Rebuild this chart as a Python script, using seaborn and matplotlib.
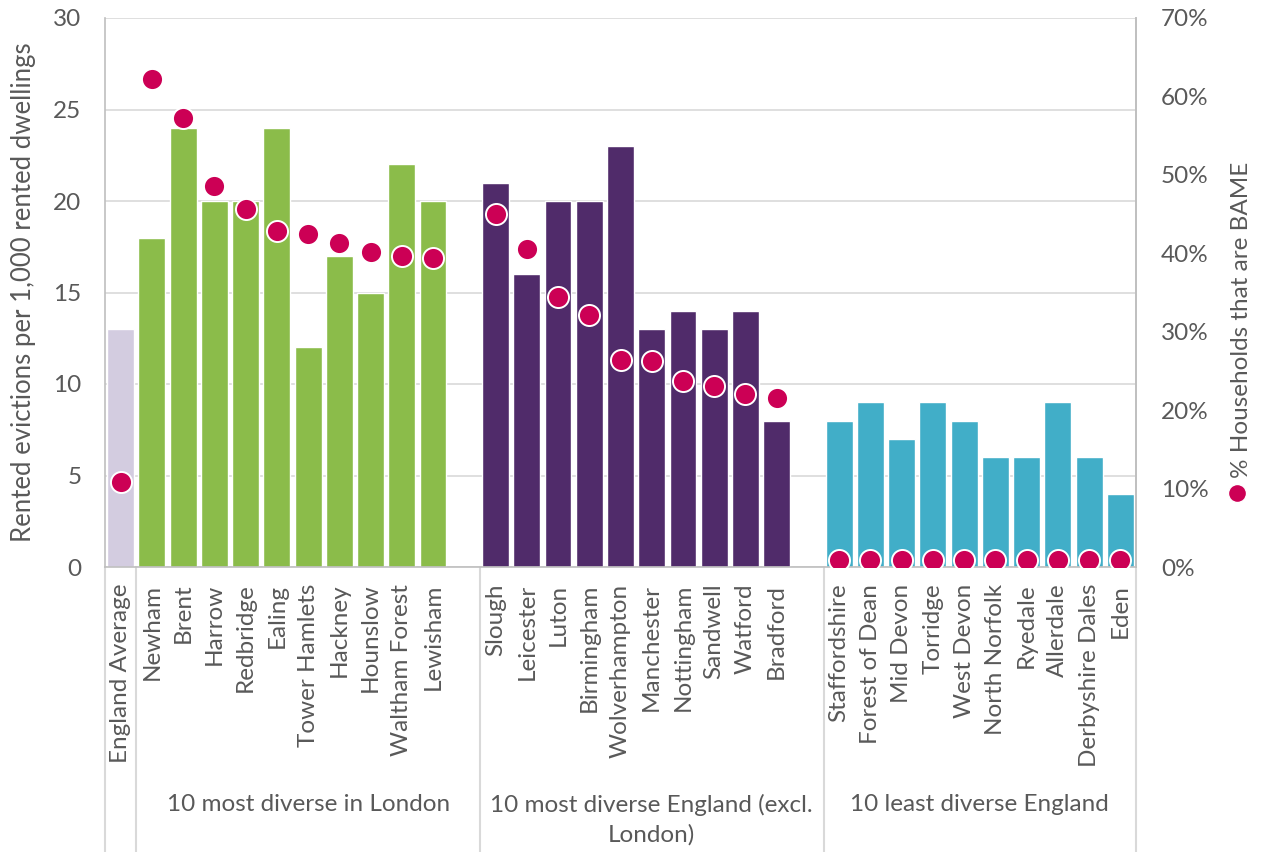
import numpy as np
import pandas as pd
import matplotlib
matplotlib.use("Agg")
import matplotlib.pyplot as plt
import seaborn as sns
from matplotlib.lines import Line2D
from matplotlib.ticker import PercentFormatter, MultipleLocator
import matplotlib.transforms as mtrans

# ---- data -------------------------------------------------------------
areas_avg = ["England Average"]
areas_london = ["Newham", "Brent", "Harrow", "Redbridge", "Ealing",
                "Tower Hamlets", "Hackney", "Hounslow", "Waltham Forest", "Lewisham"]
areas_england = ["Slough", "Leicester", "Luton", "Birmingham", "Wolverhampton",
                 "Manchester", "Nottingham", "Sandwell", "Watford", "Bradford"]
areas_least = ["Staffordshire", "Forest of Dean", "Mid Devon", "Torridge", "West Devon",
               "North Norfolk", "Ryedale", "Allerdale", "Derbyshire Dales", "Eden"]

evictions_avg = [13]
evictions_london = [18, 24, 20, 20, 24, 12, 17, 15, 22, 20]
evictions_england = [21, 16, 20, 20, 23, 13, 14, 13, 14, 8]
evictions_least = [8, 9, 7, 9, 8, 6, 6, 9, 6, 4]

bame_avg = [10.9]
bame_london = [62.2, 57.2, 48.6, 45.7, 42.9, 42.4, 41.3, 40.2, 39.6, 39.4]
bame_england = [45.0, 40.5, 34.4, 32.1, 26.4, 26.3, 23.7, 23.1, 22.0, 21.6]
bame_least = [0.9, 0.9, 0.9, 0.9, 0.9, 0.9, 0.9, 0.9, 0.9, 0.9]

group_labels = ["10 most diverse in London",
                "10 most diverse England (excl.\nLondon)",
                "10 least diverse England"]

# ---- styling ----------------------------------------------------------
sns.set_theme(style="white")
plt.rcParams["font.family"] = ["Lato", "DejaVu Sans"]
TXT = "#595959"
GRID = "#d9d9d9"
AXIS = "#bfbfbf"
colors = {"avg": "#d3cce0", "london": "#8bbc4a", "england": "#502b6a", "least": "#41aec8"}
DOT = "#cc0055"
FS = 17.5

# ---- slot layout: one empty slot after each regional group --------------
blocks = [("avg", areas_avg, evictions_avg, bame_avg),
          ("london", areas_london, evictions_london, bame_london),
          ("england", areas_england, evictions_england, bame_england),
          ("least", areas_least, evictions_least, bame_least)]
rows = []
pos = 0
group_spans = []
for key, names, ev, bm in blocks:
    start = pos
    for n, e, b in zip(names, ev, bm):
        rows.append({"area": n, "pos": pos, "group": key, "evictions": e, "bame": b})
        pos += 1
    if key != "avg":
        if key != "least":
            pos += 1  # spacer slot
        group_spans.append((start - 0.5, pos - 0.5))
df = pd.DataFrame(rows)
n_slots = pos

fig = plt.figure(figsize=(12.64, 8.52), dpi=100)
ax = fig.add_axes([105 / 1264, 1 - 567 / 852, 1031 / 1264, 549 / 852])

sns.barplot(data=df, x="pos", y="evictions", hue="group", palette=colors,
            native_scale=True, dodge=False, width=0.86, legend=False,
            saturation=1, ax=ax, zorder=2)

ax.set_xlim(-0.5, n_slots - 0.5)
ax.set_ylim(0, 30)
ax.yaxis.set_major_locator(MultipleLocator(5))
ax.grid(axis="y", color=GRID, linewidth=1.2, zorder=0)
ax.set_axisbelow(True)
ax.set_xticks(df["pos"])
ax.set_xticklabels(df["area"], rotation=90, va="top", ha="center",
                   fontsize=FS, color=TXT)
ax.tick_params(axis="both", length=0)
ax.tick_params(axis="x", pad=12)
ax.tick_params(axis="y", labelsize=FS, labelcolor=TXT, pad=17)
ax.set_xlabel("")
ax.set_ylabel("Rented evictions per 1,000 rented dwellings", fontsize=18.5,
              color=TXT, labelpad=12)
ax.spines["top"].set_visible(False)
for side in ["left", "right", "bottom"]:
    ax.spines[side].set_color(AXIS)
    ax.spines[side].set_linewidth(1.2)

# secondary axis: share of BAME households
ax2 = ax.twinx()
sns.scatterplot(data=df, x="pos", y="bame", color=DOT, s=230,
                edgecolor="white", linewidth=1.4, ax=ax2, zorder=3, legend=False)
ax2.set_ylim(0, 70)
ax2.yaxis.set_major_locator(MultipleLocator(10))
ax2.yaxis.set_major_formatter(PercentFormatter(decimals=0))
ax2.tick_params(axis="y", length=0, labelsize=FS, labelcolor=TXT, pad=18)
ax2.set_ylabel("")
for side in ["top", "left", "bottom"]:
    ax2.spines[side].set_visible(False)
ax2.spines["right"].set_color(AXIS)
ax2.spines["right"].set_linewidth(1.2)
ax2.grid(False)

# category group separators and labels below the axis
trans = mtrans.blended_transform_factory(ax.transData, ax.transAxes)
bottom = -(852 - 567) / 549
for x in [-0.5, 0.5] + [s[1] for s in group_spans]:
    ax.add_line(Line2D([x, x], [0, bottom], transform=trans, color=GRID,
                       linewidth=1.5, clip_on=False))
for (a, b), lab in zip(group_spans, group_labels):
    lo = a if lab != group_labels[0] else 0.5
    ax.text((lo + b) / 2, -(794 - 567) / 549, lab, transform=trans, ha="center",
            va="top", fontsize=FS, color=TXT, linespacing=1.45)

# legend entry drawn vertically on the right
fig.add_artist(Line2D([1237 / 1264], [1 - 493 / 852], marker="o", markersize=13,
                      color=DOT, markeredgecolor="white", transform=fig.transFigure))
fig.text(1241 / 1264, 1 - 478 / 852, "% Households that are BAME", rotation=90,
         ha="center", va="bottom", fontsize=FS, color=TXT)

fig.savefig("out.png", dpi=100, facecolor="white")
